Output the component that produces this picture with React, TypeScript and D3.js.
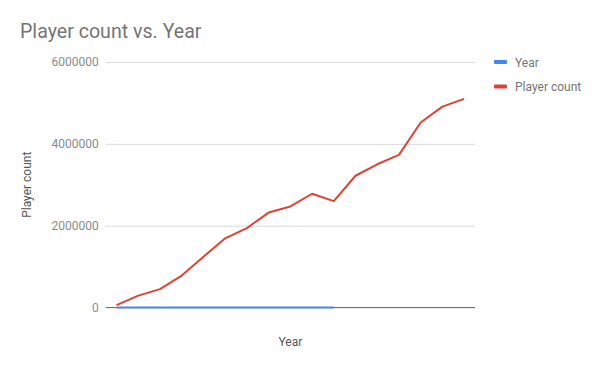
import { useEffect, useRef } from 'react';
import * as d3 from 'd3';

const title = 'Player count vs. Year';
const yTicks = [0, 2000000, 4000000, 6000000];
const yearValues = [2008, 2009, 2010, 2011, 2012, 2013, 2014, 2015, 2016, 2017, 2018];
const playerCounts = [
    60000, 290000, 450000, 780000, 1240000, 1690000, 1940000, 2320000, 2470000,
    2780000, 2600000, 3220000, 3500000, 3730000, 4520000, 4910000, 5100000
];
const seriesNames = ['Year', 'Player count'];
const seriesColors = ['#4285f4', '#db4437'];

const width = 600;
const height = 367;
const margin = { top: 62, right: 125, bottom: 59.5, left: 105.7 };

const App = () => {
    const svgRef = useRef<SVGSVGElement>(null);

    useEffect(() => {
        if (!svgRef.current) return;
        const root = d3.select(svgRef.current);
        root.selectAll('*').remove();

        const innerWidth = width - margin.left - margin.right;
        const innerHeight = height - margin.top - margin.bottom;
        const font = 'Roboto, Arial, sans-serif';

        // Title
        root.append('text')
            .attr('x', 20)
            .attr('y', 38)
            .attr('fill', '#757575')
            .style('font-family', font)
            .style('font-size', '19.6px')
            .text(title);

        const svg = root.append('g')
            .attr('transform', `translate(${margin.left},${margin.top})`);

        const xScale = d3.scalePoint<number>()
            .domain(d3.range(playerCounts.length))
            .range([0, innerWidth])
            .padding(0.5);

        const yScale = d3.scaleLinear()
            .domain([0, 6000000])
            .range([innerHeight, 0]);

        // Grid lines
        svg.append('g')
            .call(d3.axisLeft(yScale)
                .tickValues(yTicks)
                .tickSize(-innerWidth)
                .tickPadding(7)
                .tickFormat(d => String(d)))
            .call(g => g.select('.domain').remove())
            .call(g => g.selectAll('.tick line').attr('stroke', '#d9d9d9'))
            .call(g => g.selectAll('.tick text')
                .attr('fill', '#8a8a8a')
                .style('font-family', font)
                .style('font-size', '12px'));

        // Baseline
        svg.append('line')
            .attr('x1', 0)
            .attr('x2', innerWidth)
            .attr('y1', yScale(0))
            .attr('y2', yScale(0))
            .attr('stroke', '#707070')
            .attr('stroke-width', 1);

        const line = d3.line<number>()
            .x((_, i) => xScale(i) as number)
            .y(d => yScale(d));

        [yearValues, playerCounts].forEach((values, k) => {
            svg.append('path')
                .datum(values)
                .attr('fill', 'none')
                .attr('stroke', seriesColors[k])
                .attr('stroke-width', 2)
                .attr('stroke-linejoin', 'round')
                .attr('d', line);
        });

        // Axis titles
        root.append('text')
            .attr('x', margin.left + innerWidth / 2)
            .attr('y', 346)
            .attr('text-anchor', 'middle')
            .attr('fill', '#555555')
            .style('font-family', font)
            .style('font-size', '12px')
            .text('Year');

        root.append('text')
            .attr('transform', `translate(31,${margin.top + innerHeight / 2}) rotate(-90)`)
            .attr('text-anchor', 'middle')
            .attr('fill', '#555555')
            .style('font-family', font)
            .style('font-size', '12px')
            .text('Player count');

        // Legend
        const legend = root.append('g').attr('transform', 'translate(494,62)');
        seriesNames.forEach((name, k) => {
            const row = legend.append('g').attr('transform', `translate(0,${k * 24.5})`);
            row.append('rect')
                .attr('x', 0)
                .attr('y', -2)
                .attr('width', 13)
                .attr('height', 4)
                .attr('rx', 1)
                .attr('fill', seriesColors[k]);
            row.append('text')
                .attr('x', 21)
                .attr('y', 4.5)
                .attr('fill', '#757575')
                .style('font-family', font)
                .style('font-size', '12px')
                .text(name);
        });
    }, []);

    return (
        <svg ref={svgRef} width={width} height={height}
            style={{ position: 'absolute', left: 0, top: 0, background: '#fff' }}
            role="img" aria-label="Player count vs. Year line chart"></svg>
    );
};

export default App;
